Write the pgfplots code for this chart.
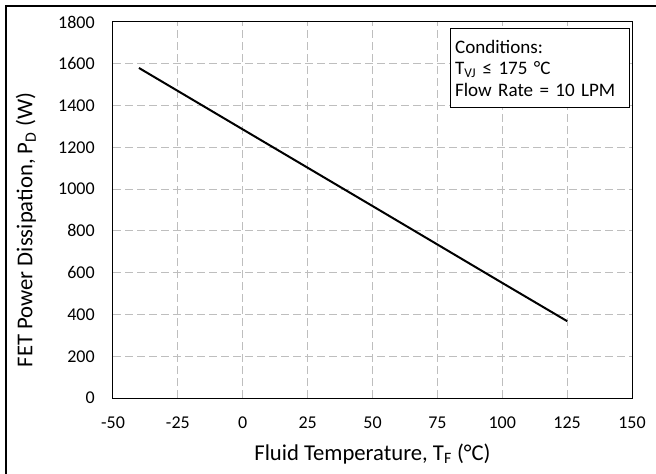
\documentclass[border=0pt]{standalone}
\usepackage{fontspec}
\setmainfont{Carlito}
\usepackage{pgfplots}
\pgfplotsset{compat=1.18}
\definecolor{gridgray}{RGB}{190,190,190}
\begin{document}
\begin{tikzpicture}[font=\fontsize{13.5}{16}\selectfont]
\useasboundingbox (0,0) rectangle (492pt,-355.5pt);
\draw[line width=1.7pt] (4.5pt,-400pt) -- (4.5pt,-4.5pt) -- (560pt,-4.5pt);
\begin{axis}[
  at={(84.75pt,-16.5pt)}, anchor=north west,
  scale only axis, width=389.25pt, height=282pt,
  xmin=-50, xmax=150, ymin=0, ymax=1800,
  xtick={-50,-25,...,150}, ytick={0,200,...,1800},
  grid=major,
  major grid style={gridgray, line width=0.75pt, dash pattern=on 6pt off 3pt},
  major tick length=0pt,
  axis line style={black, line width=0.75pt},
  /pgf/number format/assume math mode=true,
  /pgf/number format/1000 sep={},
  yticklabel style={anchor=east, inner sep=0pt, xshift=-13.5pt},
  xticklabel style={anchor=north, inner sep=0pt, yshift=-14pt},
  every axis y label/.style={at={(axis description cs:0,0.5)}, xshift=-65.25pt, yshift=-15pt, rotate=90, anchor=center, font=\fontsize{17}{20}\selectfont},
  every axis x label/.style={at={(axis description cs:0.5,0)}, yshift=-42pt, anchor=center, font=\fontsize{17}{20}\selectfont},
  xlabel={Fluid Temperature, T\textsubscript{F} (°C)},
  ylabel={FET Power Dissipation, P\textsubscript{D} (W)},
  clip=false,
]
\addplot[black, line width=1.5pt] coordinates {(-40,1580) (0,1286) (50,919) (100,551) (125,368)};
\node[draw, line width=0.75pt, fill=white, align=left, anchor=north east, text width=127pt, inner xsep=3.75pt, inner ysep=8.5pt, font=\fontsize{14.3}{16}\selectfont] at (rel axis cs:0.996,0.983) {Conditions:\\T\textsubscript{VJ} ≤ 175 °C\\Flow Rate = 10 LPM};
\end{axis}
\end{tikzpicture}
\end{document}
